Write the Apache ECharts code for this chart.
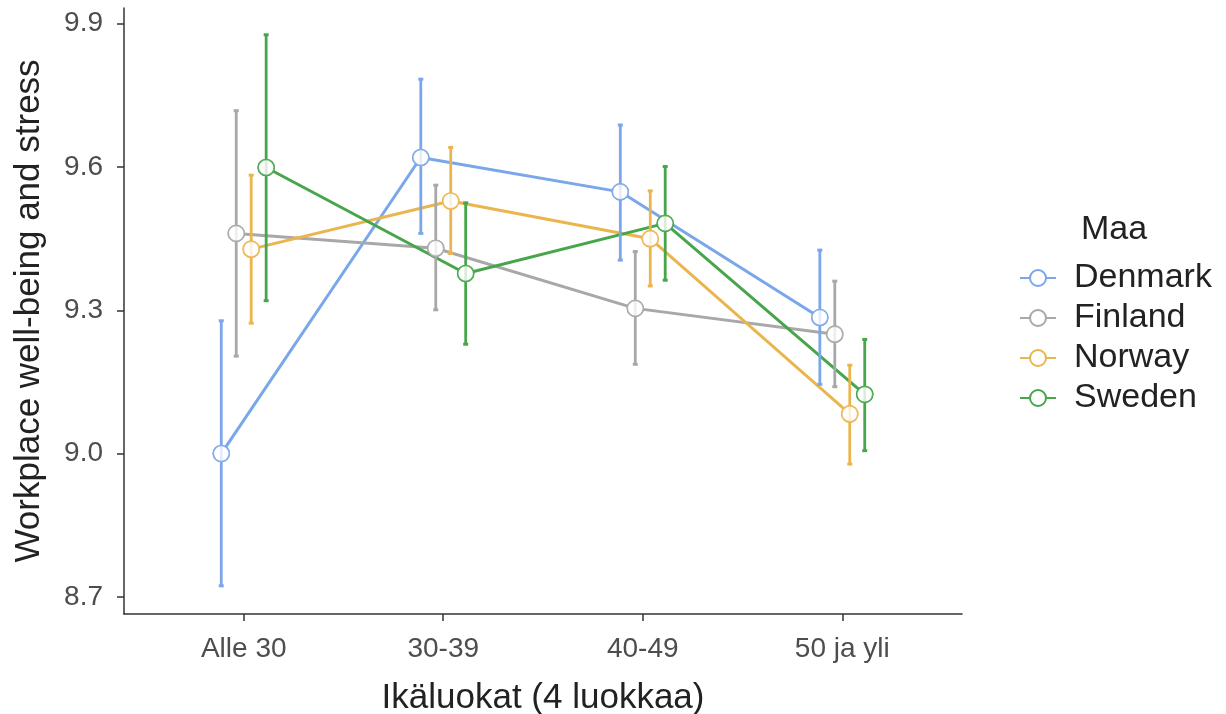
<!DOCTYPE html>
<html>
<head>
<meta charset="utf-8">
<title>Workplace well-being and stress by age group</title>
<script src="https://cdn.jsdelivr.net/npm/echarts@6/dist/echarts.min.js"></script>
<style>
  html, body { margin: 0; padding: 0; background: #ffffff; }
  #chart { width: 1226px; height: 714px; }
</style>
</head>
<body>
<div id="chart"></div>
<script>
// Age groups on the x axis
const categories = ['Alle 30', '30-39', '40-49', '50 ja yli'];
const countries = ['Denmark', 'Finland', 'Norway', 'Sweden'];
const yTicks = [8.7, 9.0, 9.3, 9.6, 9.9];

// Means and confidence-interval bounds per country, one value per age group
const denmarkMean = [9.000, 9.620, 9.548, 9.285];
const denmarkLow  = [8.723, 9.461, 9.405, 9.145];
const denmarkHigh = [9.278, 9.784, 9.688, 9.426];

const finlandMean = [9.461, 9.430, 9.304, 9.250];
const finlandLow  = [9.204, 9.301, 9.187, 9.140];
const finlandHigh = [9.718, 9.562, 9.423, 9.361];

const norwayMean = [9.428, 9.529, 9.450, 9.083];
const norwayLow  = [9.273, 9.419, 9.351, 8.978];
const norwayHigh = [9.583, 9.641, 9.550, 9.185];

const swedenMean = [9.599, 9.377, 9.482, 9.124];
const swedenLow  = [9.320, 9.229, 9.363, 9.006];
const swedenHigh = [9.877, 9.525, 9.601, 9.239];

const colors = ['#7aa6ea', '#a8a8a8', '#ebb54e', '#47a54b'];

const groups = [
  { mean: denmarkMean, low: denmarkLow, high: denmarkHigh },
  { mean: finlandMean, low: finlandLow, high: finlandHigh },
  { mean: norwayMean, low: norwayLow, high: norwayHigh },
  { mean: swedenMean, low: swedenLow, high: swedenHigh }
];

// Horizontal dodge so the four countries sit side by side (total width 0.3)
const dodgeWidth = 0.3;
const dodge = countries.map((_, k) => (k - (countries.length - 1) / 2) * dodgeWidth / countries.length);

const series = [];

countries.forEach((name, k) => {
  const g = groups[k];
  const pts = g.mean.map((m, i) => [i + 1 + dodge[k], m]);
  const bars = g.mean.map((m, i) => [i + 1 + dodge[k], g.low[i], g.high[i]]);
  // connecting line
  series.push({
    name: name,
    type: 'line',
    data: pts,
    z: 2,
    symbol: 'circle',
    symbolSize: 16,
    showSymbol: true,
    lineStyle: { color: colors[k], width: 3 },
    itemStyle: { color: '#ffffff', borderColor: colors[k], borderWidth: 1.6 },
    emphasis: { disabled: true },
    animation: false
  });
  // error bars
  series.push({
    name: name,
    type: 'custom',
    z: 3,
    data: bars,
    encode: { x: 0, y: [1, 2] },
    renderItem: function (params, api) {
      const x = api.value(0);
      const top = api.coord([x, api.value(2)]);
      const bot = api.coord([x, api.value(1)]);
      const c = colors[k];
      return {
        type: 'group',
        children: [
          { type: 'line', shape: { x1: top[0], y1: top[1], x2: bot[0], y2: bot[1] },
            style: { stroke: c, lineWidth: 2.8 } },
          { type: 'rect', shape: { x: top[0] - 2.5, y: top[1] - 1.5, width: 5, height: 3 },
            style: { fill: c } },
          { type: 'rect', shape: { x: bot[0] - 2.5, y: bot[1] - 1.5, width: 5, height: 3 },
            style: { fill: c } }
        ]
      };
    },
    animation: false
  });
});

// points drawn above lines and error bars
countries.forEach((name, k) => {
  const g = groups[k];
  series.push({
    name: name,
    type: 'scatter',
    z: 5,
    data: g.mean.map((m, i) => [i + 1 + dodge[k], m]),
    symbol: 'circle',
    symbolSize: 16,
    itemStyle: { color: '#ffffff', borderColor: colors[k], borderWidth: 1.6 },
    emphasis: { disabled: true },
    animation: false
  });
});

const chart = echarts.init(document.getElementById('chart'), null, { renderer: 'canvas' });
const textColor = '#4d4d4d';
const font = 'Liberation Sans, Arial, sans-serif';

chart.setOption({
  animation: false,
  backgroundColor: '#ffffff',
  textStyle: { fontFamily: font },
  grid: { left: 124, right: 264, top: 8, bottom: 100, containLabel: false, outerBoundsMode: 'none' },
  xAxis: {
    type: 'value',
    min: 0.4,
    max: 4.6,
    name: 'Ikäluokat (4 luokkaa)',
    nameLocation: 'middle',
    nameGap: 67,
    nameTextStyle: { color: '#222222', fontSize: 35, fontFamily: font },
    axisLine: { show: true, onZero: false, lineStyle: { color: '#333333', width: 1.5 } },
    axisTick: { show: true, length: 7, customValues: [1, 2, 3, 4], lineStyle: { color: '#333333', width: 1.5 } },
    axisLabel: {
      customValues: [1, 2, 3, 4],
      formatter: v => categories[Math.round(v) - 1],
      color: textColor, fontSize: 28, margin: 21, fontFamily: font
    },
    splitLine: { show: false }
  },
  yAxis: {
    type: 'value',
    min: 8.664,
    max: 9.933,
    name: 'Workplace well-being and stress',
    nameLocation: 'middle',
    nameGap: 77,
    nameTextStyle: { color: '#222222', fontSize: 35, fontFamily: font },
    axisLine: { show: true, onZero: false, lineStyle: { color: '#333333', width: 1.5 } },
    axisTick: { show: true, length: 7, customValues: yTicks, lineStyle: { color: '#333333', width: 1.5 } },
    axisLabel: {
      customValues: yTicks,
      formatter: v => v.toFixed(1),
      color: textColor, fontSize: 28, margin: 21, fontFamily: font
    },
    splitLine: { show: false }
  },
  legend: {
    data: countries,
    orient: 'vertical',
    left: 1014,
    top: 256,
    itemWidth: 36,
    itemHeight: 20,
    itemGap: 6,
    textStyle: { color: '#222222', fontSize: 34, fontFamily: font, padding: [0, 0, 0, 13] },
    selectedMode: false
  },
  graphic: [
    { type: 'text', left: 1081, top: 213,
      style: { text: 'Maa', fill: '#222222', font: '34px ' + font } }
  ],
  series: series
});
</script>
</body>
</html>
